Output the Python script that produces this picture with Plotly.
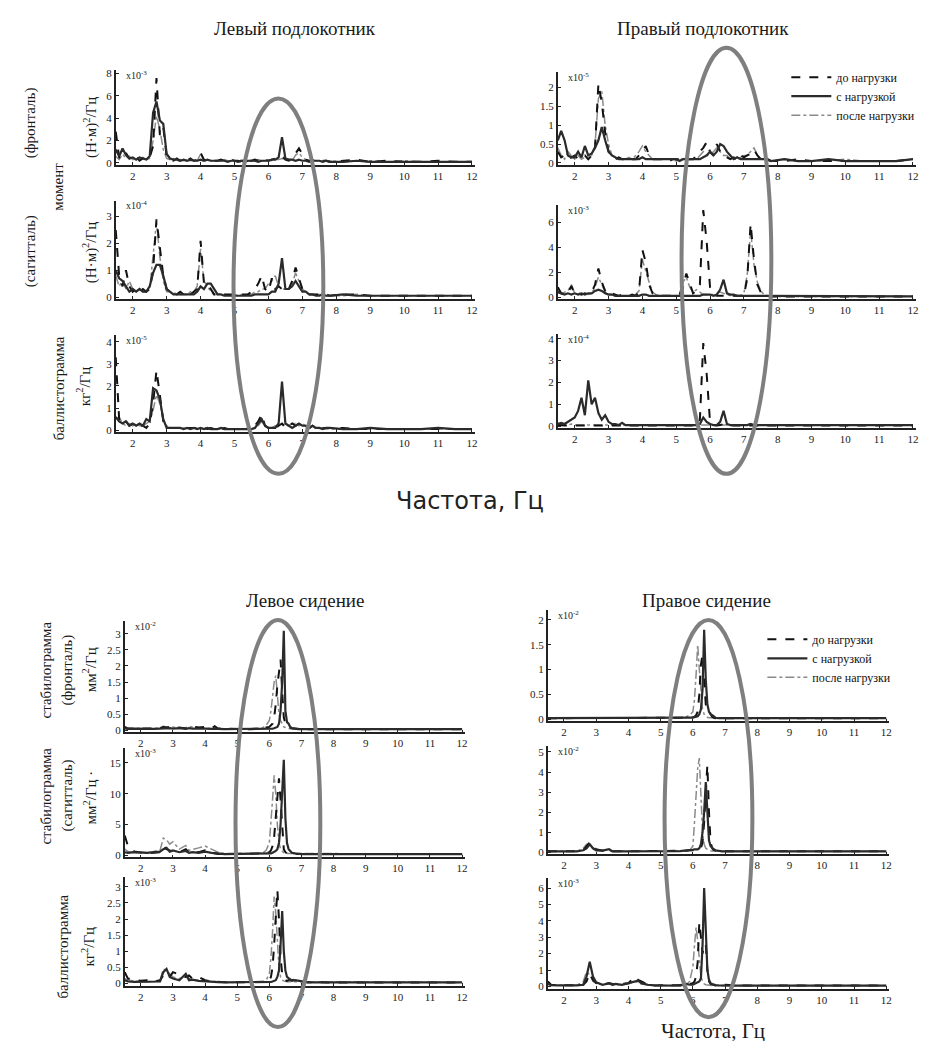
import plotly.graph_objects as go

W, H = 927, 1041

# ---------------- DATA ----------------
SERIES_NAMES = ["до нагрузки", "с нагрузкой", "после нагрузки"]
X_TICKS = [2, 3, 4, 5, 6, 7, 8, 9, 10, 11, 12]

# frequency grid for the armrest (upper) panels, Hz
FREQ_A = [1.5, 1.6, 1.7, 1.8, 1.9, 2.0, 2.1, 2.2, 2.3, 2.4,
          2.5, 2.6, 2.7, 2.8, 2.9, 3.0, 3.1, 3.2, 3.3, 3.4,
          3.5, 3.6, 3.7, 3.8, 3.9, 4.0, 4.1, 4.2, 4.3, 4.4,
          4.5, 4.6, 4.7, 4.8, 4.9, 5.0, 5.1, 5.2, 5.3, 5.4,
          5.5, 5.6, 5.7, 5.8, 5.9, 6.0, 6.1, 6.2, 6.3, 6.4,
          6.5, 6.6, 6.7, 6.8, 6.9, 7.0, 7.1, 7.2, 7.3, 7.4,
          7.5, 7.6, 7.7, 7.8, 8.2, 8.6, 9.0, 9.5, 10.0, 10.5, 11.0, 11.5, 12.0]

# frequency grid for the seat (lower) panels, Hz
FREQ_B = [1.5, 1.6, 1.8, 2.0, 2.2, 2.4, 2.6, 2.7, 2.8, 2.9,
          3.0, 3.2, 3.4, 3.5, 3.6, 3.8, 4.0, 4.2, 4.3, 4.4,
          4.6, 4.8, 5.0, 5.2, 5.4, 5.6, 5.8, 5.9, 6.0, 6.05,
          6.1, 6.15, 6.2, 6.25, 6.3, 6.35, 6.4, 6.45, 6.5, 6.55,
          6.6, 6.65, 6.7, 6.8, 6.9, 7.0, 7.2, 7.4, 7.6, 7.8,
          8.2, 8.6, 9.0, 9.5, 10.0, 10.5, 11.0, 11.5, 12.0]

# Left armrest, moment (frontal), x1e-3 (N*m)^2/Hz
LA_FRONT_BEFORE = [2.8, 0.5, 0.3, 0.9, 0.4, 0.3, 0.6, 0.2, 0.4, 0.3,
                   0.5, 1.5, 7.6, 2.5, 3.2, 0.6, 0.3, 0.2, 0.4, 0.2,
                   0.3, 0.2, 0.4, 0.2, 0.3, 0.9, 0.3, 0.2, 0.3, 0.2,
                   0.2, 0.3, 0.2, 0.2, 0.3, 0.2, 0.2, 0.1, 0.2, 0.2,
                   0.2, 0.3, 0.2, 0.4, 0.3, 0.2, 0.3, 0.4, 0.5, 0.6,
                   0.3, 0.2, 0.4, 0.9, 1.3, 0.8, 0.3, 0.2, 0.2, 0.3,
                   0.2, 0.2, 0.2, 0.1, 0.2, 0.3, 0.1, 0.2, 0.1, 0.1, 0.2, 0.1, 0.1]
LA_FRONT_WITH = [1.2, 0.6, 1.3, 0.7, 0.4, 0.5, 0.3, 0.5, 0.4, 0.3,
                 0.6, 4.5, 5.5, 3.8, 3.5, 0.8, 0.4, 0.3, 0.3, 0.2,
                 0.3, 0.2, 0.3, 0.2, 0.2, 0.3, 0.2, 0.3, 0.2, 0.2,
                 0.2, 0.2, 0.2, 0.1, 0.2, 0.2, 0.1, 0.2, 0.1, 0.2,
                 0.2, 0.2, 0.1, 0.2, 0.2, 0.2, 0.3, 0.3, 0.5, 2.3,
                 0.4, 0.3, 0.3, 0.2, 0.3, 0.2, 0.2, 0.1, 0.2, 0.2,
                 0.2, 0.1, 0.2, 0.1, 0.1, 0.2, 0.1, 0.1, 0.1, 0.1, 0.1, 0.1, 0.1]
LA_FRONT_AFTER = [0.6, 0.3, 0.8, 0.4, 0.6, 0.3, 0.4, 0.3, 0.5, 0.3,
                  0.4, 2.0, 4.2, 3.0, 1.2, 0.4, 0.3, 0.4, 0.2, 0.3,
                  0.2, 0.3, 0.2, 0.3, 0.2, 0.8, 0.2, 0.3, 0.2, 0.2,
                  0.2, 0.2, 0.3, 0.2, 0.2, 0.2, 0.2, 0.2, 0.3, 0.2,
                  0.2, 0.2, 0.3, 0.2, 0.2, 0.3, 0.2, 0.3, 0.3, 0.4,
                  0.3, 0.3, 0.2, 0.7, 0.9, 0.5, 0.3, 0.2, 0.3, 0.2,
                  0.2, 0.2, 0.2, 0.2, 0.1, 0.2, 0.2, 0.1, 0.2, 0.1, 0.1, 0.1, 0.1]

# Left armrest, moment (sagittal), x1e-4
LA_SAG_BEFORE = [2.5, 0.8, 0.4, 1.0, 0.4, 0.2, 0.3, 0.2, 0.3, 0.2,
                 0.3, 1.0, 2.9, 1.8, 0.8, 0.3, 0.2, 0.2, 0.1, 0.2,
                 0.1, 0.2, 0.1, 0.2, 0.3, 2.1, 0.5, 0.5, 0.3, 0.1,
                 0.1, 0.1, 0.1, 0.1, 0.1, 0.1, 0.1, 0.1, 0.1, 0.1,
                 0.2, 0.3, 0.5, 0.8, 0.3, 0.2, 0.7, 0.3, 0.4, 0.3,
                 0.2, 0.3, 0.6, 1.1, 0.7, 0.3, 0.2, 0.1, 0.1, 0.1,
                 0.1, 0.1, 0.1, 0.05, 0.1, 0.1, 0.05, 0.05, 0.05, 0.05, 0.05, 0.05, 0.05]
LA_SAG_WITH = [1.0, 0.7, 0.6, 0.4, 0.2, 0.3, 0.2, 0.3, 0.2, 0.2,
               0.4, 0.9, 1.2, 1.2, 0.8, 0.3, 0.2, 0.1, 0.1, 0.1,
               0.1, 0.1, 0.1, 0.1, 0.2, 0.4, 0.3, 0.5, 0.5, 0.3,
               0.1, 0.1, 0.05, 0.05, 0.05, 0.05, 0.05, 0.05, 0.05, 0.05,
               0.05, 0.1, 0.1, 0.1, 0.1, 0.1, 0.2, 0.2, 0.5, 1.45,
               0.3, 0.3, 0.4, 0.6, 0.4, 0.2, 0.2, 0.1, 0.1, 0.05,
               0.05, 0.1, 0.05, 0.05, 0.1, 0.05, 0.05, 0.05, 0.05, 0.05, 0.05, 0.05, 0.05]
LA_SAG_AFTER = [0.8, 0.4, 0.6, 0.3, 0.6, 0.3, 0.2, 0.3, 0.2, 0.2,
                0.3, 1.5, 2.8, 1.5, 0.6, 0.2, 0.2, 0.1, 0.2, 0.1,
                0.1, 0.1, 0.2, 0.2, 0.4, 1.8, 0.6, 0.4, 0.2, 0.1,
                0.1, 0.1, 0.1, 0.1, 0.05, 0.1, 0.05, 0.1, 0.1, 0.1,
                0.1, 0.2, 0.2, 0.3, 0.3, 0.5, 0.6, 0.8, 0.4, 0.3,
                0.3, 0.3, 0.5, 0.9, 0.6, 0.3, 0.2, 0.1, 0.1, 0.1,
                0.1, 0.1, 0.05, 0.05, 0.05, 0.1, 0.05, 0.05, 0.05, 0.05, 0.05, 0.05, 0.05]

# Left armrest, ballistogram, x1e-5 kg^2/Hz
LA_BAL_BEFORE = [3.3, 0.5, 0.3, 0.4, 0.2, 0.3, 0.2, 0.2, 0.2, 0.1,
                 0.3, 1.2, 2.7, 1.6, 0.4, 0.1, 0.1, 0.1, 0.1, 0.1,
                 0.1, 0.1, 0.1, 0.1, 0.1, 0.1, 0.1, 0.05, 0.1, 0.05,
                 0.1, 0.05, 0.1, 0.05, 0.05, 0.1, 0.05, 0.05, 0.05, 0.05,
                 0.1, 0.2, 0.4, 0.7, 0.2, 0.1, 0.1, 0.1, 0.2, 0.3,
                 0.1, 0.2, 0.3, 0.2, 0.3, 0.2, 0.1, 0.1, 0.2, 0.1,
                 0.1, 0.1, 0.1, 0.1, 0.1, 0.05, 0.05, 0.05, 0.05, 0.05, 0.05, 0.05, 0.05]
LA_BAL_WITH = [0.6, 0.4, 0.3, 0.4, 0.2, 0.3, 0.2, 0.3, 0.2, 0.5,
               0.4, 1.9, 1.8, 1.4, 0.5, 0.1, 0.1, 0.1, 0.1, 0.1,
               0.05, 0.1, 0.05, 0.1, 0.05, 0.1, 0.05, 0.1, 0.05, 0.05,
               0.05, 0.1, 0.05, 0.05, 0.05, 0.05, 0.05, 0.05, 0.05, 0.05,
               0.05, 0.1, 0.3, 0.5, 0.2, 0.1, 0.1, 0.1, 0.3, 2.2,
               0.3, 0.2, 0.1, 0.2, 0.3, 0.2, 0.2, 0.1, 0.2, 0.1,
               0.1, 0.05, 0.1, 0.1, 0.05, 0.05, 0.1, 0.05, 0.05, 0.05, 0.1, 0.05, 0.05]
LA_BAL_AFTER = [0.5, 0.6, 0.3, 0.2, 0.3, 0.2, 0.3, 0.2, 0.2, 0.3,
                0.4, 0.9, 1.6, 1.2, 0.5, 0.2, 0.1, 0.1, 0.1, 0.1,
                0.1, 0.05, 0.1, 0.1, 0.1, 0.05, 0.1, 0.05, 0.1, 0.05,
                0.05, 0.05, 0.1, 0.05, 0.05, 0.05, 0.05, 0.05, 0.05, 0.1,
                0.1, 0.1, 0.2, 0.4, 0.2, 0.1, 0.1, 0.2, 0.2, 0.3,
                0.2, 0.2, 0.3, 0.3, 0.2, 0.3, 0.2, 0.1, 0.1, 0.1,
                0.1, 0.1, 0.05, 0.05, 0.05, 0.05, 0.05, 0.05, 0.05, 0.05, 0.05, 0.05, 0.05]

# Right armrest, moment (frontal), x1e-5
RA_FRONT_BEFORE = [0.3, 0.15, 0.2, 0.1, 0.15, 0.2, 0.1, 0.15, 0.2, 0.1,
                   0.2, 0.4, 2.1, 1.6, 0.8, 0.3, 0.2, 0.1, 0.15, 0.1,
                   0.1, 0.15, 0.1, 0.1, 0.2, 0.3, 0.45, 0.2, 0.1, 0.1,
                   0.1, 0.1, 0.1, 0.05, 0.1, 0.1, 0.1, 0.05, 0.1, 0.1,
                   0.1, 0.2, 0.3, 0.4, 0.55, 0.3, 0.2, 0.5, 0.3, 0.2,
                   0.15, 0.1, 0.15, 0.1, 0.2, 0.15, 0.2, 0.25, 0.35, 0.2,
                   0.1, 0.1, 0.1, 0.05, 0.05, 0.1, 0.05, 0.05, 0.05, 0.05, 0.05, 0.05, 0.1]
RA_FRONT_WITH = [0.6, 0.85, 0.6, 0.2, 0.15, 0.15, 0.3, 0.15, 0.45, 0.2,
                 0.25, 0.4, 0.6, 0.95, 0.6, 0.3, 0.2, 0.15, 0.1, 0.1,
                 0.1, 0.1, 0.1, 0.1, 0.1, 0.15, 0.1, 0.1, 0.1, 0.1,
                 0.1, 0.1, 0.1, 0.1, 0.1, 0.1, 0.05, 0.1, 0.1, 0.1,
                 0.1, 0.1, 0.1, 0.15, 0.2, 0.3, 0.2, 0.3, 0.5, 0.45,
                 0.3, 0.2, 0.1, 0.15, 0.1, 0.1, 0.1, 0.1, 0.1, 0.1,
                 0.1, 0.1, 0.1, 0.05, 0.1, 0.05, 0.05, 0.1, 0.05, 0.05, 0.05, 0.05, 0.1]
RA_FRONT_AFTER = [0.4, 0.2, 0.1, 0.3, 0.2, 0.1, 0.2, 0.1, 0.15, 0.1,
                  0.2, 0.5, 1.7, 1.9, 1.0, 0.5, 0.2, 0.15, 0.1, 0.1,
                  0.1, 0.15, 0.1, 0.2, 0.3, 0.45, 0.3, 0.2, 0.1, 0.1,
                  0.1, 0.1, 0.1, 0.1, 0.1, 0.05, 0.1, 0.1, 0.1, 0.1,
                  0.1, 0.1, 0.2, 0.3, 0.2, 0.2, 0.3, 0.4, 0.3, 0.2,
                  0.2, 0.1, 0.1, 0.1, 0.15, 0.2, 0.2, 0.3, 0.4, 0.2,
                  0.1, 0.1, 0.05, 0.05, 0.1, 0.05, 0.05, 0.05, 0.1, 0.05, 0.05, 0.05, 0.1]

# Right armrest, moment (sagittal), x1e-3
RA_SAG_BEFORE = [0.8, 0.3, 0.2, 0.3, 0.9, 0.2, 0.3, 0.2, 0.3, 0.2,
                 0.4, 1.0, 2.3, 1.2, 0.5, 0.2, 0.3, 0.2, 0.1, 0.2,
                 0.1, 0.1, 0.2, 0.1, 0.4, 3.8, 2.8, 1.0, 0.3, 0.2,
                 0.1, 0.1, 0.1, 0.1, 0.1, 0.1, 0.2, 0.8, 1.9, 1.0,
                 0.3, 0.5, 1.0, 7.0, 4.5, 0.8, 0.2, 0.1, 0.1, 0.1,
                 0.1, 0.1, 0.1, 0.1, 0.1, 0.1, 1.5, 5.9, 3.0, 1.0,
                 0.4, 0.1, 0.1, 0.05, 0.05, 0.05, 0.05, 0.05, 0.05, 0.05, 0.05, 0.05, 0.05]
RA_SAG_WITH = [0.4, 0.3, 0.2, 0.3, 0.2, 0.3, 0.2, 0.3, 0.2, 0.3,
               0.3, 0.5, 0.6, 0.5, 0.3, 0.2, 0.2, 0.1, 0.1, 0.1,
               0.1, 0.1, 0.1, 0.1, 0.1, 0.2, 0.2, 0.1, 0.1, 0.1,
               0.1, 0.05, 0.05, 0.05, 0.1, 0.05, 0.05, 0.1, 0.1, 0.1,
               0.1, 0.1, 0.1, 0.2, 0.2, 0.2, 0.1, 0.2, 0.6, 1.4,
               0.3, 0.2, 0.2, 0.1, 0.1, 0.1, 0.1, 0.1, 0.1, 0.1,
               0.1, 0.05, 0.05, 0.05, 0.05, 0.05, 0.05, 0.05, 0.05, 0.05, 0.05, 0.05, 0.05]
RA_SAG_AFTER = [0.5, 0.3, 0.4, 0.5, 1.0, 0.3, 0.2, 0.2, 0.3, 0.2,
                0.3, 0.8, 1.6, 1.0, 0.4, 0.3, 0.2, 0.1, 0.1, 0.1,
                0.1, 0.1, 0.1, 0.2, 0.5, 3.0, 2.0, 1.2, 0.4, 0.2,
                0.1, 0.1, 0.1, 0.1, 0.1, 0.1, 0.3, 1.2, 1.6, 0.8,
                0.4, 0.6, 0.4, 0.2, 0.2, 0.2, 0.2, 0.3, 0.4, 0.3,
                0.2, 0.1, 0.1, 0.1, 0.1, 0.3, 1.8, 5.4, 2.6, 1.2,
                0.5, 0.2, 0.1, 0.05, 0.05, 0.05, 0.05, 0.05, 0.05, 0.05, 0.05, 0.05, 0.05]

# Right armrest, ballistogram, x1e-4
RA_BAL_BEFORE = [0.05, 0.03, 0.03, 0.03, 0.03, 0.03, 0.03, 0.03, 0.03, 0.03,
                 0.03, 0.03, 0.05, 0.03, 0.03, 0.03, 0.03, 0.03, 0.03, 0.03,
                 0.03, 0.03, 0.03, 0.03, 0.03, 0.03, 0.03, 0.03, 0.03, 0.03,
                 0.03, 0.03, 0.03, 0.03, 0.03, 0.03, 0.03, 0.03, 0.03, 0.03,
                 0.03, 0.03, 0.3, 3.8, 2.4, 0.2, 0.05, 0.03, 0.05, 0.1,
                 0.05, 0.03, 0.03, 0.03, 0.03, 0.03, 0.03, 0.03, 0.03, 0.03,
                 0.03, 0.03, 0.03, 0.03, 0.03, 0.03, 0.03, 0.03, 0.03, 0.03, 0.03, 0.03, 0.03]
RA_BAL_WITH = [0.1, 0.15, 0.1, 0.2, 0.3, 0.4, 0.7, 1.3, 0.5, 2.1,
               1.0, 1.3, 0.6, 0.3, 0.5, 0.2, 0.1, 0.1, 0.05, 0.15,
               0.05, 0.05, 0.05, 0.05, 0.05, 0.05, 0.05, 0.05, 0.05, 0.05,
               0.05, 0.05, 0.05, 0.05, 0.05, 0.05, 0.05, 0.05, 0.05, 0.05,
               0.05, 0.05, 0.1, 0.4, 0.2, 0.1, 0.05, 0.05, 0.2, 0.7,
               0.1, 0.05, 0.05, 0.05, 0.05, 0.05, 0.05, 0.1, 0.05, 0.05,
               0.05, 0.05, 0.05, 0.05, 0.05, 0.05, 0.05, 0.05, 0.05, 0.05, 0.05, 0.05, 0.05]
RA_BAL_AFTER = [0.15, 0.08, 0.05, 0.05, 0.1, 0.05, 0.05, 0.05, 0.05, 0.05,
                0.05, 0.05, 0.05, 0.05, 0.05, 0.05, 0.05, 0.05, 0.05, 0.05,
                0.05, 0.05, 0.05, 0.05, 0.05, 0.05, 0.05, 0.05, 0.05, 0.05,
                0.05, 0.05, 0.05, 0.05, 0.05, 0.05, 0.05, 0.05, 0.05, 0.05,
                0.05, 0.05, 0.05, 0.05, 0.05, 0.05, 0.05, 0.05, 0.05, 0.05,
                0.05, 0.05, 0.05, 0.05, 0.05, 0.05, 0.05, 0.05, 0.05, 0.05,
                0.05, 0.05, 0.05, 0.05, 0.05, 0.05, 0.05, 0.05, 0.05, 0.05, 0.05, 0.05, 0.05]

# Left seat, stabilogram (frontal), x1e-2 mm^2/Hz
LS_FRONT_BEFORE = [0.1, 0.05, 0.04, 0.05, 0.04, 0.05, 0.06, 0.1, 0.08, 0.1,
                   0.06, 0.08, 0.05, 0.1, 0.12, 0.08, 0.1, 0.06, 0.12, 0.05,
                   0.04, 0.03, 0.03, 0.03, 0.03, 0.04, 0.05, 0.08, 0.1, 0.15,
                   0.2, 0.4, 0.8, 1.4, 1.9, 2.2, 1.2, 0.4, 0.2, 0.1,
                   0.1, 0.08, 0.06, 0.05, 0.04, 0.03, 0.03, 0.03, 0.03, 0.03,
                   0.03, 0.03, 0.03, 0.03, 0.03, 0.03, 0.03, 0.03, 0.03]
LS_FRONT_WITH = [0.05, 0.04, 0.05, 0.04, 0.03, 0.04, 0.05, 0.06, 0.05, 0.06,
                 0.05, 0.06, 0.04, 0.06, 0.05, 0.06, 0.05, 0.04, 0.05, 0.04,
                 0.03, 0.03, 0.03, 0.03, 0.03, 0.03, 0.03, 0.04, 0.04, 0.04,
                 0.05, 0.06, 0.08, 0.1, 0.2, 0.6, 1.5, 3.1, 0.6, 0.25,
                 0.2, 0.1, 0.06, 0.04, 0.03, 0.03, 0.03, 0.03, 0.03, 0.03,
                 0.03, 0.03, 0.03, 0.03, 0.03, 0.03, 0.03, 0.03, 0.03]
LS_FRONT_AFTER = [0.06, 0.05, 0.06, 0.05, 0.06, 0.05, 0.08, 0.12, 0.1, 0.08,
                  0.1, 0.06, 0.08, 0.12, 0.1, 0.08, 0.06, 0.05, 0.06, 0.04,
                  0.04, 0.03, 0.04, 0.03, 0.04, 0.05, 0.08, 0.15, 0.3, 0.6,
                  1.0, 1.5, 1.7, 1.0, 0.5, 0.3, 0.2, 0.1, 0.08, 0.06,
                  0.05, 0.04, 0.04, 0.03, 0.03, 0.03, 0.03, 0.03, 0.03, 0.03,
                  0.03, 0.03, 0.03, 0.03, 0.03, 0.03, 0.03, 0.03, 0.03]

# Left seat, stabilogram (sagittal), x1e-3
LS_SAG_BEFORE = [3.2, 1.5, 0.6, 0.4, 0.3, 0.4, 0.5, 1.5, 1.0, 0.8,
                 0.6, 0.5, 1.0, 0.4, 0.6, 0.5, 0.8, 0.4, 0.3, 0.2,
                 0.2, 0.2, 0.2, 0.2, 0.2, 0.2, 0.3, 0.4, 0.5, 0.8,
                 1.5, 3.0, 6.0, 10.0, 12.5, 9.0, 4.0, 1.0, 0.5, 0.3,
                 0.3, 0.2, 0.2, 0.2, 0.2, 0.2, 0.2, 0.2, 0.2, 0.2,
                 0.2, 0.2, 0.2, 0.2, 0.2, 0.2, 0.2, 0.2, 0.2]
LS_SAG_WITH = [0.5, 0.4, 0.5, 0.4, 0.4, 0.5, 0.6, 1.0, 1.2, 0.6,
               0.8, 0.5, 0.7, 0.4, 0.5, 0.4, 0.6, 0.4, 0.3, 0.3,
               0.2, 0.2, 0.2, 0.2, 0.2, 0.2, 0.2, 0.3, 0.3, 0.3,
               0.4, 0.5, 0.7, 1.0, 2.0, 5.0, 11.0, 15.5, 6.0, 2.0,
               1.0, 0.6, 0.4, 0.3, 0.2, 0.2, 0.2, 0.2, 0.2, 0.2,
               0.2, 0.2, 0.2, 0.2, 0.2, 0.2, 0.2, 0.2, 0.2]
LS_SAG_AFTER = [1.0, 0.6, 0.4, 0.5, 0.4, 0.6, 0.8, 2.8, 2.5, 1.8,
                2.2, 1.0, 1.6, 0.8, 0.9, 1.2, 1.5, 1.0, 0.8, 0.5,
                0.3, 0.3, 0.2, 0.3, 0.2, 0.3, 0.4, 0.8, 2.0, 5.0,
                9.0, 13.0, 10.0, 5.0, 2.0, 1.0, 0.6, 0.4, 0.3, 0.3,
                0.2, 0.2, 0.2, 0.2, 0.2, 0.2, 0.2, 0.2, 0.2, 0.2,
                0.2, 0.2, 0.2, 0.2, 0.2, 0.2, 0.2, 0.2, 0.2]

# Left seat, ballistogram, x1e-3 kg^2/Hz
LS_BAL_BEFORE = [0.35, 0.15, 0.1, 0.08, 0.1, 0.06, 0.1, 0.25, 0.3, 0.2,
                 0.35, 0.28, 0.2, 0.25, 0.15, 0.2, 0.1, 0.06, 0.05, 0.04,
                 0.04, 0.03, 0.03, 0.03, 0.03, 0.04, 0.05, 0.06, 0.1, 0.2,
                 0.5, 1.2, 2.2, 2.9, 2.0, 0.8, 0.3, 0.15, 0.1, 0.08,
                 0.1, 0.12, 0.1, 0.12, 0.08, 0.05, 0.04, 0.03, 0.03, 0.03,
                 0.03, 0.03, 0.03, 0.03, 0.03, 0.03, 0.03, 0.03, 0.03]
LS_BAL_WITH = [0.1, 0.06, 0.05, 0.05, 0.04, 0.05, 0.06, 0.35, 0.45, 0.2,
               0.15, 0.1, 0.3, 0.1, 0.12, 0.08, 0.06, 0.05, 0.04, 0.04,
               0.03, 0.03, 0.03, 0.03, 0.03, 0.03, 0.04, 0.04, 0.05, 0.05,
               0.06, 0.08, 0.1, 0.2, 0.4, 1.2, 2.25, 1.0, 0.4, 0.2,
               0.15, 0.1, 0.08, 0.1, 0.08, 0.05, 0.03, 0.03, 0.03, 0.03,
               0.03, 0.03, 0.03, 0.03, 0.03, 0.03, 0.03, 0.03, 0.03]
LS_BAL_AFTER = [0.15, 0.1, 0.08, 0.06, 0.05, 0.06, 0.1, 0.45, 0.4, 0.3,
                0.2, 0.15, 0.2, 0.15, 0.1, 0.1, 0.08, 0.06, 0.05, 0.04,
                0.03, 0.03, 0.03, 0.03, 0.04, 0.04, 0.06, 0.1, 0.3, 0.8,
                1.6, 2.7, 2.2, 1.2, 0.5, 0.2, 0.1, 0.08, 0.06, 0.05,
                0.05, 0.05, 0.04, 0.04, 0.03, 0.03, 0.03, 0.03, 0.03, 0.03,
                0.03, 0.03, 0.03, 0.03, 0.03, 0.03, 0.03, 0.03, 0.03]

# Right seat, stabilogram (frontal), x1e-2
RS_FRONT_BEFORE = [0.02, 0.02, 0.02, 0.02, 0.02, 0.02, 0.02, 0.02, 0.02, 0.02,
                   0.02, 0.02, 0.02, 0.02, 0.02, 0.02, 0.02, 0.02, 0.02, 0.02,
                   0.02, 0.02, 0.02, 0.02, 0.02, 0.02, 0.03, 0.03, 0.04, 0.05,
                   0.08, 0.15, 0.5, 1.1, 1.3, 0.8, 0.3, 0.2, 0.2, 0.1,
                   0.05, 0.03, 0.02, 0.02, 0.02, 0.02, 0.02, 0.02, 0.02, 0.02,
                   0.02, 0.02, 0.02, 0.02, 0.02, 0.02, 0.02, 0.02, 0.02]
RS_FRONT_WITH = [0.02, 0.02, 0.02, 0.02, 0.02, 0.02, 0.02, 0.02, 0.02, 0.02,
                 0.02, 0.02, 0.02, 0.02, 0.02, 0.02, 0.02, 0.02, 0.02, 0.02,
                 0.02, 0.02, 0.02, 0.02, 0.02, 0.02, 0.03, 0.03, 0.03, 0.04,
                 0.05, 0.06, 0.1, 0.2, 0.6, 1.8, 0.8, 0.3, 0.15, 0.1,
                 0.08, 0.05, 0.03, 0.02, 0.02, 0.02, 0.02, 0.02, 0.02, 0.02,
                 0.02, 0.02, 0.02, 0.02, 0.02, 0.02, 0.02, 0.02, 0.02]
RS_FRONT_AFTER = [0.02, 0.02, 0.02, 0.02, 0.02, 0.02, 0.02, 0.02, 0.02, 0.02,
                  0.02, 0.02, 0.02, 0.02, 0.02, 0.02, 0.02, 0.02, 0.02, 0.02,
                  0.02, 0.02, 0.02, 0.02, 0.02, 0.03, 0.05, 0.08, 0.15, 0.4,
                  0.9, 1.5, 1.0, 0.5, 0.2, 0.1, 0.06, 0.04, 0.03, 0.03,
                  0.02, 0.02, 0.02, 0.02, 0.02, 0.02, 0.02, 0.02, 0.02, 0.02,
                  0.02, 0.02, 0.02, 0.02, 0.02, 0.02, 0.02, 0.02, 0.02]

# Right seat, stabilogram (sagittal), x1e-2
RS_SAG_BEFORE = [0.05, 0.05, 0.05, 0.05, 0.05, 0.05, 0.1, 0.3, 0.5, 0.3,
                 0.15, 0.08, 0.1, 0.05, 0.06, 0.05, 0.05, 0.05, 0.05, 0.05,
                 0.05, 0.05, 0.05, 0.05, 0.05, 0.05, 0.08, 0.1, 0.1, 0.1,
                 0.1, 0.1, 0.15, 0.2, 0.5, 1.5, 3.0, 4.35, 2.0, 0.5,
                 0.2, 0.1, 0.08, 0.05, 0.05, 0.05, 0.05, 0.05, 0.05, 0.05,
                 0.05, 0.05, 0.05, 0.05, 0.05, 0.05, 0.05, 0.05, 0.05]
RS_SAG_WITH = [0.05, 0.05, 0.05, 0.05, 0.05, 0.05, 0.1, 0.2, 0.4, 0.2,
               0.1, 0.08, 0.15, 0.05, 0.05, 0.05, 0.05, 0.05, 0.05, 0.05,
               0.05, 0.05, 0.05, 0.05, 0.05, 0.06, 0.1, 0.1, 0.12, 0.15,
               0.15, 0.15, 0.2, 0.4, 1.0, 2.0, 3.5, 2.0, 0.6, 0.3,
               0.2, 0.15, 0.1, 0.06, 0.05, 0.05, 0.05, 0.05, 0.05, 0.05,
               0.05, 0.05, 0.05, 0.05, 0.05, 0.05, 0.05, 0.05, 0.05]
RS_SAG_AFTER = [0.05, 0.05, 0.05, 0.05, 0.05, 0.05, 0.2, 0.4, 0.35, 0.2,
                0.1, 0.1, 0.1, 0.05, 0.05, 0.05, 0.05, 0.05, 0.05, 0.05,
                0.05, 0.05, 0.05, 0.05, 0.05, 0.05, 0.08, 0.1, 0.3, 1.5,
                3.0, 4.2, 4.7, 3.0, 1.0, 0.4, 0.2, 0.15, 0.1, 0.08,
                0.06, 0.05, 0.05, 0.05, 0.05, 0.05, 0.05, 0.05, 0.05, 0.05,
                0.05, 0.05, 0.05, 0.05, 0.05, 0.05, 0.05, 0.05, 0.05]

# Right seat, ballistogram, x1e-3
RS_BAL_BEFORE = [0.3, 0.1, 0.08, 0.06, 0.06, 0.06, 0.1, 0.3, 0.8, 0.4,
                 0.2, 0.1, 0.2, 0.15, 0.1, 0.15, 0.2, 0.6, 0.4, 0.3,
                 0.1, 0.06, 0.06, 0.05, 0.06, 0.08, 0.1, 0.15, 0.2, 0.3,
                 0.6, 1.5, 3.9, 3.0, 2.0, 2.5, 2.6, 1.0, 0.3, 0.15,
                 0.1, 0.08, 0.06, 0.05, 0.05, 0.1, 0.06, 0.05, 0.05, 0.05,
                 0.05, 0.05, 0.05, 0.05, 0.05, 0.05, 0.05, 0.05, 0.05]
RS_BAL_WITH = [0.15, 0.08, 0.06, 0.05, 0.05, 0.06, 0.1, 0.6, 1.5, 0.6,
               0.25, 0.1, 0.2, 0.1, 0.15, 0.1, 0.2, 0.3, 0.35, 0.2,
               0.1, 0.06, 0.06, 0.05, 0.05, 0.05, 0.15, 0.1, 0.1, 0.15,
               0.15, 0.2, 0.3, 0.5, 2.5, 6.0, 3.0, 1.0, 0.4, 0.2,
               0.15, 0.1, 0.08, 0.06, 0.05, 0.05, 0.05, 0.05, 0.05, 0.05,
               0.05, 0.05, 0.05, 0.05, 0.05, 0.05, 0.05, 0.05, 0.05]
RS_BAL_AFTER = [0.2, 0.1, 0.08, 0.06, 0.06, 0.08, 0.3, 0.9, 0.7, 0.3,
                0.2, 0.1, 0.15, 0.1, 0.1, 0.1, 0.15, 0.3, 0.25, 0.15,
                0.08, 0.06, 0.06, 0.05, 0.06, 0.1, 0.15, 0.3, 1.2, 2.5,
                3.6, 2.8, 1.5, 0.6, 0.3, 0.15, 0.1, 0.08, 0.06, 0.06,
                0.05, 0.05, 0.05, 0.05, 0.05, 0.05, 0.05, 0.05, 0.05, 0.05,
                0.05, 0.05, 0.05, 0.05, 0.05, 0.05, 0.05, 0.05, 0.05]

# y tick labels per panel (in units of the panel multiplier)
YT_LA_FRONT = [0, 2, 4, 6, 8]
YT_LA_SAG = [0, 1, 2, 3]
YT_LA_BAL = [0, 1, 2, 3, 4]
YT_RA_FRONT = [0, 0.5, 1, 1.5, 2]
YT_RA_SAG = [0, 2, 4, 6]
YT_RA_BAL = [0, 1, 2, 3, 4]
YT_LS_FRONT = [0, 0.5, 1, 1.5, 2, 2.5, 3]
YT_LS_SAG = [0, 5, 10, 15]
YT_LS_BAL = [0, 0.5, 1, 1.5, 2, 2.5, 3]
YT_RS_FRONT = [0, 0.5, 1, 1.5, 2]
YT_RS_SAG = [0, 1, 2, 3, 4, 5]
YT_RS_BAL = [0, 1, 2, 3, 4, 5, 6]

# ---------------- LAYOUT (pixel geometry) ----------------
def PX(x):
    return x / W


def PY(y):
    return 1 - y / H


SERIF = "Liberation Serif"
# (freq, series, x-left px at 1.5 Hz, px per Hz, baseline px, px per unit, ymax, yticks, exponent, legend)
PANELS = [
    (FREQ_A, (LA_FRONT_BEFORE, LA_FRONT_WITH, LA_FRONT_AFTER), 108, 34.0, 153, 11.25, 8.3, YT_LA_FRONT, "-3", None),
    (FREQ_A, (LA_SAG_BEFORE, LA_SAG_WITH, LA_SAG_AFTER), 108, 34.0, 288, 27.0, 3.6, YT_LA_SAG, "-4", None),
    (FREQ_A, (LA_BAL_BEFORE, LA_BAL_WITH, LA_BAL_AFTER), 108, 34.0, 422, 22.25, 4.3, YT_LA_BAL, "-5", None),
    (FREQ_A, (RA_FRONT_BEFORE, RA_FRONT_WITH, RA_FRONT_AFTER), 551, 33.9, 153, 38.0, 2.4, YT_RA_FRONT, "-5", "legend"),
    (FREQ_A, (RA_SAG_BEFORE, RA_SAG_WITH, RA_SAG_AFTER), 551, 33.9, 288, 12.5, 7.4, YT_RA_SAG, "-3", None),
    (FREQ_A, (RA_BAL_BEFORE, RA_BAL_WITH, RA_BAL_AFTER), 551, 33.9, 418, 22.0, 4.2, YT_RA_BAL, "-4", None),
    (FREQ_B, (LS_FRONT_BEFORE, LS_FRONT_WITH, LS_FRONT_AFTER), 117, 32.2, 724, 32.3, 3.4, YT_LS_FRONT, "-2", None),
    (FREQ_B, (LS_SAG_BEFORE, LS_SAG_WITH, LS_SAG_AFTER), 117, 32.2, 850, 6.2, 17.4, YT_LS_SAG, "-3", None),
    (FREQ_B, (LS_BAL_BEFORE, LS_BAL_WITH, LS_BAL_AFTER), 117, 32.2, 979, 32.4, 3.3, YT_LS_BAL, "-3", None),
    (FREQ_B, (RS_FRONT_BEFORE, RS_FRONT_WITH, RS_FRONT_AFTER), 541, 32.3, 713, 50.0, 2.2, YT_RS_FRONT, "-2", "legend2"),
    (FREQ_B, (RS_SAG_BEFORE, RS_SAG_WITH, RS_SAG_AFTER), 541, 32.3, 847, 20.2, 5.3, YT_RS_SAG, "-2", None),
    (FREQ_B, (RS_BAL_BEFORE, RS_BAL_WITH, RS_BAL_AFTER), 541, 32.3, 982, 16.5, 6.6, YT_RS_BAL, "-3", None),
]

STYLES = [
    dict(color="#111111", width=2.0, dash="dash"),
    dict(color="#2b2b2b", width=2.2, dash="solid"),
    dict(color="#8a8a8a", width=1.5, dash="dashdot"),
]

fig = go.Figure()
layout = {}
annotations = []
XMAX = 12.1

for i, (freq, series, xl, xppu, base, ppu, ymax, yticks, expo, leg) in enumerate(PANELS, start=1):
    sfx = "" if i == 1 else str(i)
    ymin = -0.02 * ymax
    x0 = xl
    x1 = xl + (XMAX - 1.5) * xppu
    ytop = base - ymax * ppu
    ybot = base - ymin * ppu
    layout["xaxis" + sfx] = dict(
        domain=[PX(x0), PX(x1)], anchor="y" + sfx, range=[1.5, XMAX],
        tickvals=X_TICKS, ticks="inside", ticklen=3, tickwidth=1, tickcolor="#222",
        showline=True, linecolor="#222", linewidth=1.6, showgrid=False, zeroline=False,
        tickfont=dict(family=SERIF, size=11, color="#222"),
    )
    layout["yaxis" + sfx] = dict(
        domain=[PY(ybot), PY(ytop)], anchor="x" + sfx, range=[ymin, ymax],
        tickvals=yticks, ticks="inside", ticklen=3, tickwidth=1, tickcolor="#222",
        showline=True, linecolor="#222", linewidth=1.6, showgrid=False, zeroline=False,
        tickfont=dict(family=SERIF, size=11, color="#222"),
    )
    order = [2, 0, 1]  # draw "after" first, solid on top
    for k in order:
        st = STYLES[k]
        fig.add_trace(go.Scatter(
            x=freq, y=series[k], mode="lines", name=SERIES_NAMES[k],
            xaxis="x" + sfx, yaxis="y" + sfx,
            line=dict(color=st["color"], width=st["width"], dash=st["dash"]),
            showlegend=leg is not None, legend=leg if leg else "legend",
            legendrank=k + 1, hoverinfo="skip",
        ))
    annotations.append(dict(
        x=PX(x0 + 8), y=PY(ytop + 5), xref="paper", yref="paper",
        text="x10<sup>" + expo + "</sup>", showarrow=False, xanchor="left", yanchor="middle",
        font=dict(family=SERIF, size=10, color="#222"),
    ))

# titles
def ann(text, x, y, size, family=SERIF, angle=0, color="#1a1a1a"):
    annotations.append(dict(
        x=PX(x), y=PY(y), xref="paper", yref="paper", text=text, showarrow=False,
        xanchor="center", yanchor="middle", textangle=angle,
        font=dict(family=family, size=size, color=color),
    ))

ann("Левый подлокотник", 288, 18, 19)
ann("Правый подлокотник", 697, 18, 19)
ann("Частота, Гц", 463, 493, 24, family="DejaVu Sans", color="#222")
ann("Левое сидение", 298, 593, 19)
ann("Правое сидение", 700, 593, 19)
ann("Частота, Гц", 707, 1027, 21)

# rotated y labels (upper block)
ann("(фронталь)", 22, 112, 15, angle=-90)
ann("(Н·м)<sup>2</sup>/Гц", 82, 117, 15, angle=-90)
ann("момент", 50, 177, 15, angle=-90)
ann("(сагитталь)", 22, 242, 15, angle=-90)
ann("(Н·м)<sup>2</sup>/Гц", 82, 243, 15, angle=-90)
ann("баллистограмма", 52, 380, 15, angle=-90)
ann("кг<sup>2</sup>/Гц", 76, 378, 15, angle=-90)
# rotated y labels (lower block)
ann("стабилограмма", 38, 663, 15, angle=-90)
ann("(фронталь)", 60, 663, 15, angle=-90)
ann("мм<sup>2</sup>/Гц", 81, 663, 15, angle=-90)
ann("стабилограмма", 38, 790, 15, angle=-90)
ann("(сагитталь)", 60, 790, 15, angle=-90)
ann("мм<sup>2</sup>/Гц ·", 82, 792, 15, angle=-90)
ann("баллистограмма", 55, 942, 15, angle=-90)
ann("кг<sup>2</sup>/Гц", 80, 942, 15, angle=-90)

# highlight ellipses (pixel boxes)
ELLIPSES = [(226, 88, 316, 466), (675, 37, 765, 466), (228, 613, 313, 1023), (658, 613, 746, 1013)]
shapes = []
for (ex0, ey0, ex1, ey1) in ELLIPSES:
    shapes.append(dict(type="circle", xref="paper", yref="paper",
                       x0=PX(ex0), x1=PX(ex1), y0=PY(ey1), y1=PY(ey0),
                       line=dict(color="#7f7f7f", width=4), layer="above"))

legend_common = dict(xanchor="left", yanchor="top", bgcolor="rgba(0,0,0,0)",
                     font=dict(family=SERIF, size=12, color="#111"), tracegroupgap=0,
                     itemwidth=40)
layout["legend"] = dict(x=PX(780), y=PY(52), **legend_common)
layout["legend2"] = dict(x=PX(756), y=PY(618), **legend_common)

fig.update_layout(
    width=W, height=H, margin=dict(l=0, r=0, t=0, b=0),
    paper_bgcolor="white", plot_bgcolor="white",
    annotations=annotations, shapes=shapes, **layout,
)

fig.write_html("out.html")
